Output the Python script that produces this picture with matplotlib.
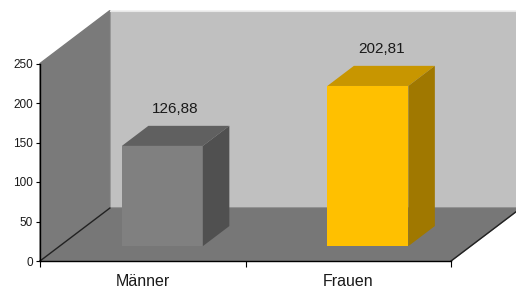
import numpy as np
import matplotlib.pyplot as plt

categories = ["Männer", "Frauen"]
values = [126.88, 202.81]
face_colors = ["#808080", "#FFC000"]
top_colors = ["#606060", "#C89600"]
side_colors = ["#505050", "#A07800"]

plt.rcParams['font.family'] = ['Liberation Sans', 'DejaVu Sans']

fig = plt.figure(figsize=(5.16, 2.88), dpi=100)
ax = fig.add_axes([40/516, 27/288, 411/516, 197.5/288])
ax.set_xlim(0, 2)
ax.set_ylim(0, 250)
ax.patch.set_visible(False)

# oblique depth vector (full depth of the chart box)
Dx, Dy = 0.34, 67.0
ymax = 250

# walls + floor
ax.fill([Dx, 2 + Dx + 0.2, 2 + Dx + 0.2, Dx], [Dy, Dy, ymax + Dy, ymax + Dy],
        color="#C0C0C0", clip_on=False, zorder=0)
ax.fill([0, Dx, Dx, 0], [0, Dy, ymax + Dy, ymax], color="#7A7A7A",
        clip_on=False, zorder=1)
ax.fill([0, Dx, 2 + Dx, 2], [0, Dy, Dy, 0], color="#777777",
        clip_on=False, zorder=1)
ax.plot([0, Dx], [0, Dy], color="#222222", lw=1, clip_on=False, zorder=2)
ax.plot([2, 2 + Dx], [0, Dy], color="#222222", lw=1, clip_on=False, zorder=2)
ax.plot([Dx, 2 + Dx + 0.2], [ymax + Dy, ymax + Dy], color="#E8E8E8", lw=0.8,
        clip_on=False, zorder=1)

# bars
f0, f1 = 0.28, 0.66   # front and back depth of the bars
w = 0.394
x = np.arange(len(categories)) + 0.5
for i, v in enumerate(values):
    xf = x[i] + f0 * Dx - w / 2
    yf = f0 * Dy
    ddx = (f1 - f0) * Dx
    ddy = (f1 - f0) * Dy
    ax.bar(xf + w / 2, v, width=w, bottom=yf, color=face_colors[i], zorder=3)
    ax.fill([xf, xf + w, xf + w + ddx, xf + ddx],
            [yf + v, yf + v, yf + v + ddy, yf + v + ddy],
            color=top_colors[i], zorder=3, lw=0)
    ax.fill([xf + w, xf + w + ddx, xf + w + ddx, xf + w],
            [yf, yf + ddy, yf + v + ddy, yf + v],
            color=side_colors[i], zorder=3, lw=0)
    ax.annotate(f"{v:.2f}".replace(".", ","),
                (xf + w / 2 + ddx / 2, yf + v + ddy / 2),
                xytext=(0, 27), textcoords="offset pixels",
                ha="center", va="center", fontsize=11, color="#1a1a1a",
                zorder=4)

ax.spines["top"].set_visible(False)
ax.spines["right"].set_visible(False)
for s in ("left", "bottom"):
    ax.spines[s].set_color("black")
    ax.spines[s].set_linewidth(1)
    ax.spines[s].set_zorder(5)

ax.set_yticks(np.arange(0, 251, 50))
ax.tick_params(axis="y", length=3, labelsize=8.5, pad=2, labelcolor="#1a1a1a")
ax.set_xticks([0, 1, 2])
ax.set_xticklabels([])
ax.tick_params(axis="x", which="major", length=4)
ax.set_xticks(x, minor=True)
ax.set_xticklabels(categories, minor=True)
ax.tick_params(axis="x", which="minor", length=0, labelsize=11.5, pad=9,
               labelcolor="#1a1a1a")

fig.savefig("out.png", dpi=100)
